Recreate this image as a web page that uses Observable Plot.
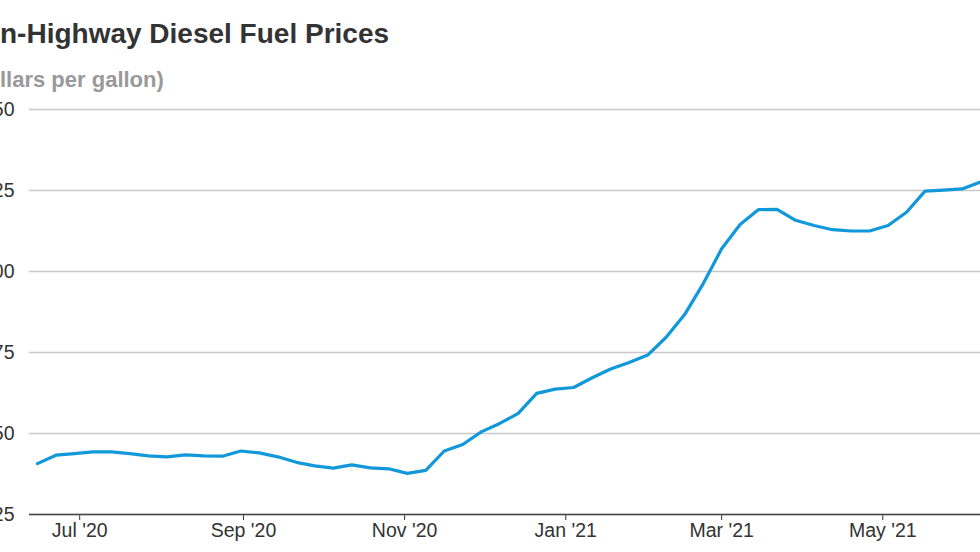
<!DOCTYPE html>
<html>
<head>
<meta charset="utf-8">
<script src="https://cdn.jsdelivr.net/npm/d3@7"></script>
<script src="https://cdn.jsdelivr.net/npm/@observablehq/plot@0.6"></script>
<style>
  html, body { margin: 0; padding: 0; background: #fff; }
  body { width: 980px; height: 552px; overflow: hidden; position: relative; font-family: "Liberation Sans", Arial, Helvetica, sans-serif; }
  #chart { position: absolute; left: -40px; top: 0; width: 1020px; }
  #chart svg { max-width: none; }
  .ttl { position: absolute; white-space: nowrap; z-index: 2; font-weight: bold; }
  #title { font-size: 28px; line-height: 28px; color: #333; top: 20px; }
  #subtitle { font-size: 22px; line-height: 22px; color: #999; top: 69px; }
</style>
</head>
<body>
<div id="chart"></div>
<div id="title" class="ttl"><span id="tp">O</span>n-Highway Diesel Fuel Prices</div>
<div id="subtitle" class="ttl"><span id="sp">(do</span>llars per gallon)</div>
<script>
const weeks = [
  "2020-06-15","2020-06-22","2020-06-29","2020-07-06","2020-07-13","2020-07-20","2020-07-27",
  "2020-08-03","2020-08-10","2020-08-17","2020-08-24","2020-08-31","2020-09-07","2020-09-14",
  "2020-09-21","2020-09-28","2020-10-05","2020-10-12","2020-10-19","2020-10-26","2020-11-02",
  "2020-11-09","2020-11-16","2020-11-23","2020-11-30","2020-12-07","2020-12-14","2020-12-21",
  "2020-12-28","2021-01-04","2021-01-11","2021-01-18","2021-01-25","2021-02-01","2021-02-08",
  "2021-02-15","2021-02-22","2021-03-01","2021-03-08","2021-03-15","2021-03-22","2021-03-29",
  "2021-04-05","2021-04-12","2021-04-19","2021-04-26","2021-05-03","2021-05-10","2021-05-17",
  "2021-05-24","2021-05-31","2021-06-07"
];
const prices = [
  2.407,2.433,2.438,2.443,2.443,2.438,2.431,
  2.428,2.434,2.431,2.430,2.446,2.440,2.428,
  2.411,2.400,2.393,2.403,2.394,2.391,2.377,
  2.386,2.446,2.466,2.505,2.531,2.562,2.624,
  2.637,2.642,2.672,2.699,2.719,2.742,2.797,
  2.867,2.962,3.070,3.145,3.191,3.192,3.158,
  3.142,3.129,3.125,3.125,3.142,3.183,3.248,
  3.251,3.255,3.276
];
const yTicks = [2.25, 2.50, 2.75, 3.00, 3.25, 3.50];
const yTickLabels = ["2.25", "2.50", "2.75", "3.00", "3.25", "3.50"];
const xTickDates = ["2020-07-01","2020-09-01","2020-11-01","2021-01-01","2021-03-01","2021-05-01"];
const xTickLabels = ["Jul '20","Sep '20","Nov '20","Jan '21","Mar '21","May '21"];

const data = weeks.map((w, i) => ({date: new Date(w + "T00:00:00Z"), price: prices[i]}));
const xTicks = xTickDates.map(d => new Date(d + "T00:00:00Z"));

const chart = Plot.plot({
  width: 1020,
  height: 552,
  marginLeft: 69,
  marginRight: 0,
  marginTop: 109,
  marginBottom: 38,
  style: {
    fontFamily: "'Liberation Sans', Arial, Helvetica, sans-serif",
    fontSize: "19.5px",
    color: "#333",
    background: "transparent",
    overflow: "visible"
  },
  x: {
    type: "utc",
    domain: [new Date("2020-06-12T00:00:00Z"), new Date("2021-06-07T00:00:00Z")],
    ticks: xTicks,
    tickFormat: d => xTickLabels[xTicks.findIndex(t => +t === +d)],
    tickSize: 6,
    tickPadding: 3,
    label: null
  },
  y: {
    domain: [2.25, 3.5],
    ticks: yTicks,
    tickFormat: v => yTickLabels[yTicks.indexOf(v)],
    tickSize: 0,
    tickPadding: 15,
    label: null
  },
  marks: [
    Plot.ruleY(yTicks, {stroke: "#c8c8c8", strokeWidth: 1.5}),
    Plot.ruleY([yTicks[0]], {stroke: "#444", strokeWidth: 1.5}),
    Plot.lineY(data, {x: "date", y: "price", stroke: "#1198da", strokeWidth: 3.2})
  ]
});
document.getElementById("chart").appendChild(chart);

const t = document.getElementById("title");
t.style.left = (-document.getElementById("tp").getBoundingClientRect().width) + "px";
const s = document.getElementById("subtitle");
s.style.left = (-document.getElementById("sp").getBoundingClientRect().width) + "px";
</script>
</body>
</html>
